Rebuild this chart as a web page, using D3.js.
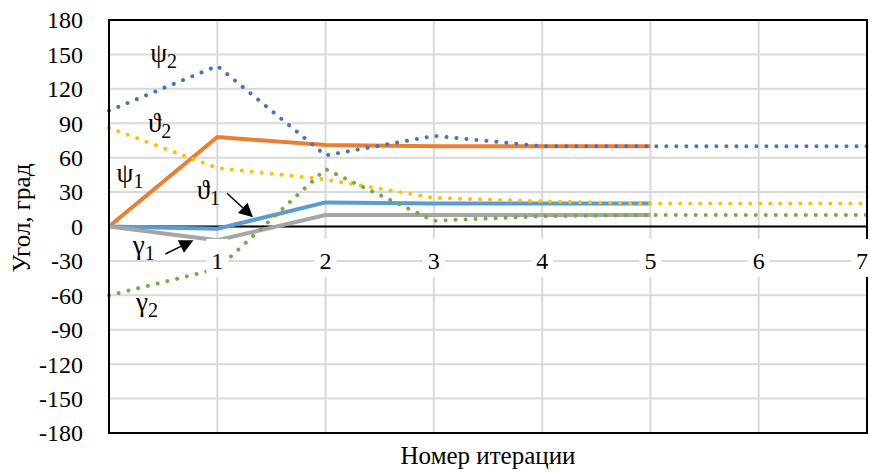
<!DOCTYPE html>
<html><head><meta charset="utf-8">
<script src="https://cdn.jsdelivr.net/npm/d3@7"></script>
<style>
html,body{margin:0;padding:0;background:#fff;}
svg{display:block;}
</style></head><body>
<svg id="chart" width="870" height="472" font-family="'Liberation Serif', 'Times New Roman', 'DejaVu Serif', serif"></svg>
<script>
// ---- data ----
const iterations = [0,1,2,3,4,5,6,7];
const xTickLabels = ["1","2","3","4","5","6","7"];
const yTickValues = [180,150,120,90,60,30,0,-30,-60,-90,-120,-150,-180];
const psi1   = [0,78,71,70,70,70];
const theta1 = [0,-2,21,20,20,20];
const gamma1 = [0,-12,10,10,10,10];
const psi2   = [101,140,62,79,70,70,70,70];
const theta2 = [86,51,41,25,22,20,20,20];
const gamma2 = [-60,-37,50,5,9,10,10,10];

const FONT = "'Liberation Serif', 'Times New Roman', 'DejaVu Serif', serif";
const svg = d3.select("#chart");
const m = {left:109, right:867, top:20, bottom:433};
const x = d3.scaleLinear().domain([0,7]).range([m.left,m.right]);
const y = d3.scaleLinear().domain([-180,180]).range([m.bottom,m.top]);

// gridlines
const g = svg.append("g");
g.selectAll("line.h").data(yTickValues).join("line")
  .attr("x1",m.left).attr("x2",m.right)
  .attr("y1",d=>y(d)).attr("y2",d=>y(d))
  .attr("stroke","#d9d9d9").attr("stroke-width",2);
g.selectAll("line.v").data(iterations.slice(1,7)).join("line")
  .attr("x1",d=>x(d)).attr("x2",d=>x(d))
  .attr("y1",m.top).attr("y2",m.bottom)
  .attr("stroke","#d9d9d9").attr("stroke-width",2);

// y axis tick labels
svg.append("g").selectAll("text").data(yTickValues).join("text")
  .attr("x",m.left-26).attr("y",d=>y(d)).attr("dy","0.35em")
  .attr("text-anchor","end").attr("font-size",24).attr("font-family",FONT)
  .text(d=>d);

// zero axis line
svg.append("line").attr("x1",m.left).attr("x2",m.right)
  .attr("y1",y(0)).attr("y2",y(0)).attr("stroke","#000").attr("stroke-width",2);

// series
const line = d3.line().x((d,i)=>x(iterations[i])).y(d=>y(d));
const series = [
  {v:psi1,c:"#ED7D31",dot:false},
  {v:psi2,c:"#4472C4",dot:true},
  {v:theta1,c:"#5B9BD5",dot:false},
  {v:theta2,c:"#FFC000",dot:true},
  {v:gamma1,c:"#A5A5A5",dot:false},
  {v:gamma2,c:"#70AD47",dot:true}
];
series.forEach(s=>{
  const p = svg.append("path").attr("d",line(s.v)).attr("fill","none")
    .attr("stroke",s.c).attr("stroke-linejoin","round");
  if(s.dot){ p.attr("stroke-width",4).attr("stroke-dasharray","0.01 10").attr("stroke-linecap","round"); }
  else { p.attr("stroke-width",4); }
});

// plot border
svg.append("rect").attr("x",m.left).attr("y",m.top)
  .attr("width",m.right-m.left).attr("height",m.bottom-m.top)
  .attr("fill","none").attr("stroke","#000").attr("stroke-width",2);

// x tick labels with white background
const xl = svg.append("g").selectAll("g").data(xTickLabels).join("g")
  .attr("transform",(d,i)=>`translate(${Math.min(x(i+1),862)},${y(-30)})`);
xl.append("rect").attr("x",-11).attr("y",-22).attr("width",22).attr("height",38).attr("fill","#fff");
xl.append("text").attr("text-anchor","middle").attr("y",0).attr("dy","0.35em")
  .attr("font-size",24).attr("font-family",FONT).text(d=>d);

// annotations (data coordinates)
const labels = [
  {main:"ψ",sub:"2",ix:0.38,iy:143},
  {main:"ϑ",sub:"2",ix:0.36,iy:82},
  {main:"ψ",sub:"1",ix:0.07,iy:39},
  {main:"ϑ",sub:"1",ix:0.81,iy:24},
  {main:"γ",sub:"1",ix:0.22,iy:-24},
  {main:"γ",sub:"2",ix:0.25,iy:-74}
];
labels.forEach(l=>{
  const t = svg.append("text").attr("x",x(l.ix)).attr("y",y(l.iy))
    .attr("font-size",27).attr("font-family",FONT);
  t.append("tspan").text(l.main);
  t.append("tspan").attr("font-size",20).attr("dy",6).text(l.sub);
});

// arrows (data coordinates)
const arrows = [
  {x1:1.09,y1:29,x2:1.33,y2:8},
  {x1:0.52,y1:-24,x2:0.78,y2:-12}
];
arrows.forEach(a=>{
  const X1=x(a.x1),Y1=y(a.y1),X2=x(a.x2),Y2=y(a.y2);
  const ang=Math.atan2(Y2-Y1,X2-X1), L=14, W=7;
  const bx=X2-L*Math.cos(ang), by=Y2-L*Math.sin(ang);
  svg.append("line").attr("x1",X1).attr("y1",Y1).attr("x2",bx).attr("y2",by)
    .attr("stroke","#000").attr("stroke-width",1.5);
  svg.append("path").attr("d",`M${X2},${Y2}L${bx+W*Math.sin(ang)},${by-W*Math.cos(ang)}L${bx-W*Math.sin(ang)},${by+W*Math.cos(ang)}Z`)
    .attr("fill","#000");
});

// axis titles
svg.append("text").attr("x",(m.left+m.right)/2).attr("y",464)
  .attr("text-anchor","middle").attr("font-size",25).attr("font-family",FONT).text("Номер итерации");
svg.append("text").attr("transform","translate(30,218) rotate(-90)")
  .attr("text-anchor","middle").attr("font-size",25).attr("font-family",FONT).text("Угол, град");
</script>
</body></html>
